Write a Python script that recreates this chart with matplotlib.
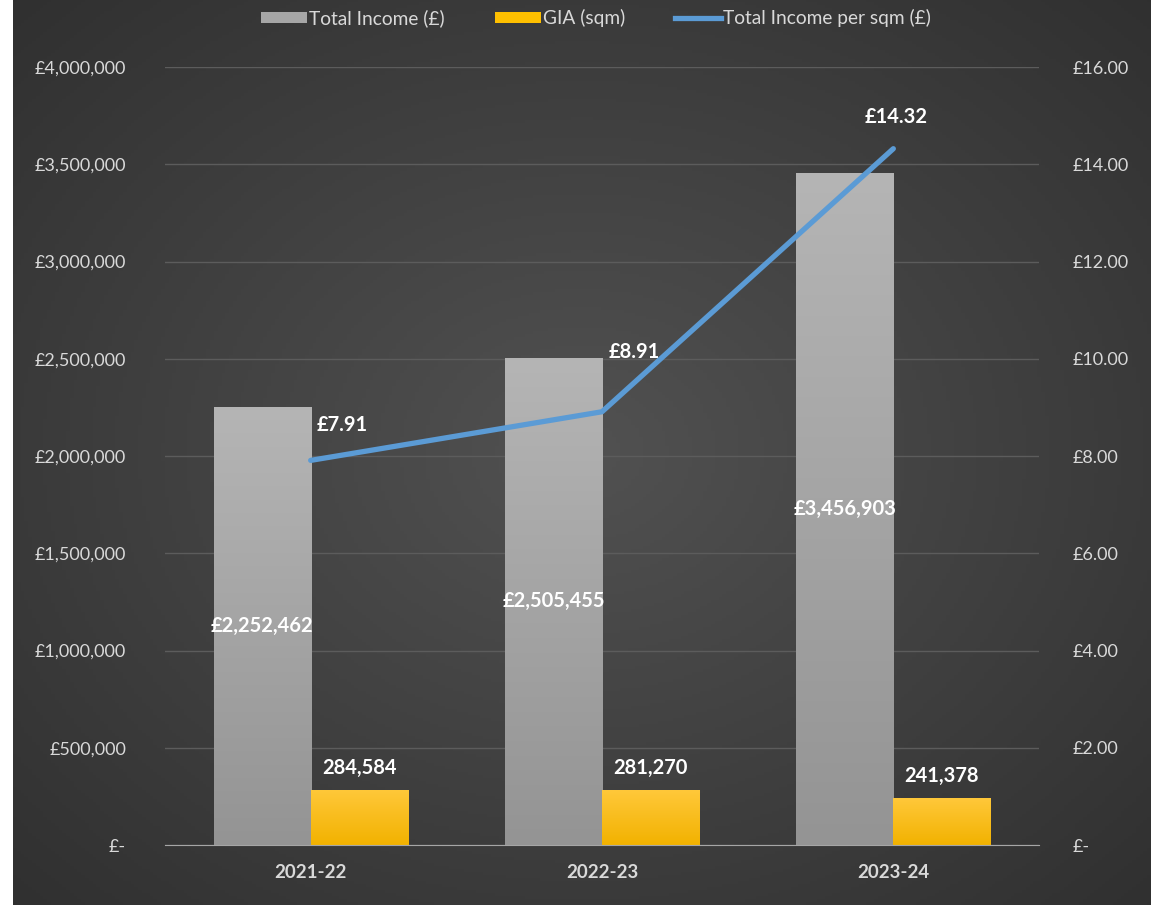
import numpy as np
import matplotlib
matplotlib.use("Agg")
import matplotlib.pyplot as plt
from matplotlib.lines import Line2D
from matplotlib.patches import Patch

# values
years = ["2021-22", "2022-23", "2023-24"]
total_income = [2252462, 2505455, 3456903]
gia_sqm = [284584, 281270, 241378]
income_per_sqm = [7.91, 8.91, 14.32]

left_ticks = [0, 500000, 1000000, 1500000, 2000000, 2500000, 3000000, 3500000, 4000000]
right_ticks = [0, 2, 4, 6, 8, 10, 12, 14, 16]

plt.rcParams["font.family"] = ["Lato", "DejaVu Sans"]
txt_col = "#d9d9d9"

fig = plt.figure(figsize=(11.51, 9.05), dpi=100, facecolor="white")

# dark radial background (leaves a thin white strip on the left)
bg = fig.add_axes([13 / 1151, 0, 1 - 13 / 1151, 1], zorder=-10)
yy, xx = np.mgrid[0:1:300j, 0:1:300j]
r = np.sqrt(((xx - 0.5) / 0.75) ** 2 + ((yy - 0.5) / 0.75) ** 2)
shade = 0.32 - 0.14 * np.clip(r, 0, 1)
bg.imshow(np.dstack([shade] * 3), extent=[0, 1, 0, 1], aspect="auto", origin="lower")
bg.set_axis_off()

ax = fig.add_axes([165 / 1151, 60 / 905, 874 / 1151, 778 / 905])
ax.set_facecolor("none")
x = np.arange(len(years))
w = 0.333


def gradient_fill(axis, bars, top, bottom):
    grad = np.linspace(0, 1, 256).reshape(-1, 1)
    top = np.array(matplotlib.colors.to_rgb(top))
    bottom = np.array(matplotlib.colors.to_rgb(bottom))
    img = bottom + (top - bottom) * grad[:, :, None]
    for b in bars:
        x0, y0 = b.get_x(), b.get_y()
        im = axis.imshow(img, extent=[x0, x0 + b.get_width(), y0, y0 + b.get_height()],
                         origin="lower", aspect="auto", zorder=b.get_zorder())
        im.set_clip_path(b)


inc_bars = ax.bar(x - w / 2, total_income, w, color="#a6a6a6", zorder=2)
gia_bars = ax.bar(x + w / 2, gia_sqm, w, color="#ffc000", zorder=2)
gradient_fill(ax, inc_bars, "#b5b5b5", "#949494")
gradient_fill(ax, gia_bars, "#ffc83a", "#f2b200")

ax.set_xlim(-0.5, 2.5)
ax.set_ylim(0, 4000000)
ax.set_yticks(left_ticks)
ax.set_yticklabels(["£-" if v == 0 else f"£{v:,.0f}" for v in left_ticks])
ax.set_xticks(x)
ax.set_xticklabels(years, fontweight="bold")
ax.tick_params(axis="y", length=0, pad=28, colors=txt_col, labelsize=13)
ax.tick_params(axis="x", length=0, pad=14, colors=txt_col, labelsize=13.5)
ax.grid(axis="y", color="#5c5c5c", linewidth=1)
ax.set_axisbelow(True)
for s in ["top", "left", "right"]:
    ax.spines[s].set_visible(False)
ax.spines["bottom"].set_color("#a6a6a6")
ax.spines["bottom"].set_zorder(3)

for b, v in zip(inc_bars, total_income):
    ax.text(b.get_x() + b.get_width() / 2, v / 2, f"£{v:,}", ha="center", va="center",
            color="white", fontweight="bold", fontsize=14.5, zorder=5)
for b, v in zip(gia_bars, gia_sqm):
    ax.annotate(f"{v:,}", (b.get_x() + b.get_width() / 2, v), xytext=(0, 22),
                textcoords="offset pixels", ha="center", va="center",
                color="white", fontweight="bold", fontsize=14.5, zorder=5)

ax2 = ax.twinx()
ax2.set_ylim(0, 16)
ax2.set_yticks(right_ticks)
ax2.set_yticklabels(["£-" if v == 0 else f"£{v:.2f}" for v in right_ticks])
ax2.tick_params(axis="y", length=0, pad=24, colors=txt_col, labelsize=13)
for s in ax2.spines.values():
    s.set_visible(False)
ax2.plot(x, income_per_sqm, color="#5b9bd5", linewidth=3.8, solid_capstyle="round", zorder=4)

label_offsets = [(32, 35), (32, 60), (3, 32)]
for xi, v, off in zip(x, income_per_sqm, label_offsets):
    ax2.annotate(f"£{v:.2f}", (xi, v), xytext=off, textcoords="offset pixels",
                 ha="center", va="center", color="white", fontweight="bold", fontsize=14.5)

handles = [Patch(facecolor="#a6a6a6", edgecolor="none"),
           Patch(facecolor="#ffc000", edgecolor="none"),
           Line2D([], [], color="#5b9bd5", linewidth=3.8)]
fig.legend(handles, ["Total Income (£)", "GIA (sqm)", "Total Income per sqm (£)"],
           loc="center", bbox_to_anchor=(596 / 1151, 1 - 18 / 905), ncol=3, frameon=False,
           labelcolor=txt_col, fontsize=13.8, handlelength=2.4, handleheight=0.5,
           handletextpad=0.1, columnspacing=2.6)

fig.savefig("out.png", dpi=100)
